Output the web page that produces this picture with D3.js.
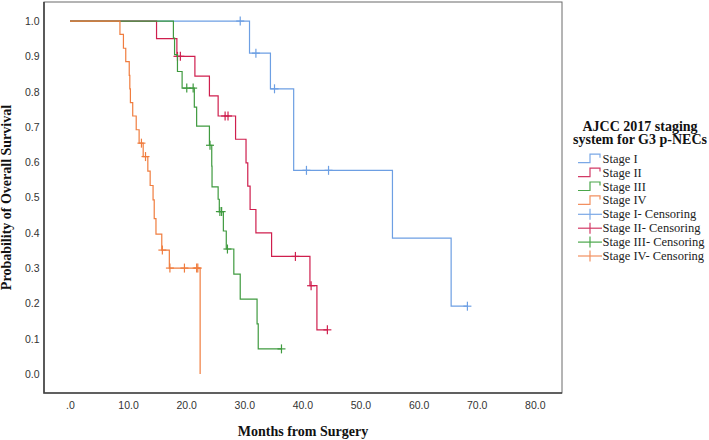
<!DOCTYPE html>
<html>
<head>
<meta charset="utf-8">
<script src="https://cdn.jsdelivr.net/npm/d3@7"></script>
<style>
  html, body { margin: 0; padding: 0; background: #fff; }
  svg { display: block; }
</style>
</head>
<body>
<svg id="chart" width="709" height="440"></svg>
<script>
// ---------------- data ----------------
const stageNames = ["Stage I", "Stage II", "Stage III", "Stage IV"];
const censorNames = ["Stage I- Censoring", "Stage II- Censoring", "Stage III- Censoring", "Stage IV- Censoring"];
const legendTitle = ["AJCC 2017 staging", "system for G3 p-NECs"];

// Kaplan-Meier step events: time (months) and survival after event
const stageI_times = [0, 30.9, 34.5, 38.5, 55.5, 65.6];
const stageI_surv  = [1.0, 0.909, 0.808, 0.577, 0.385, 0.192];
const stageI_censor = [29.3, 32.0, 35.2, 40.7, 44.5, 68.4];
const stageI_end = 68.4;

const stageII_times = [0, 14.9, 18.4, 21.5, 24.0, 25.5, 28.5, 30.3, 30.6, 31.0, 32.0, 34.7, 41.3, 42.5];
const stageII_surv  = [1.0, 0.95, 0.90, 0.844, 0.788, 0.731, 0.665, 0.598, 0.532, 0.466, 0.40, 0.333, 0.25, 0.125];
const stageII_censor = [18.5, 19.0, 26.7, 27.2, 38.8, 41.5, 44.3];
const stageII_end = 44.3;

const stageIII_times = [0, 17.8, 18.0, 18.5, 19.3, 21.4, 21.8, 24.0, 24.4, 24.45, 25.5, 25.7, 26.4, 26.9, 28.2, 29.3, 32.2, 32.4];
const stageIII_surv  = [1.0, 0.952, 0.905, 0.857, 0.81, 0.756, 0.702, 0.648, 0.589, 0.530, 0.495, 0.460, 0.405, 0.354, 0.283, 0.212, 0.142, 0.071];
const stageIII_censor = [20.1, 21.2, 24.1, 25.8, 26.1, 27.1, 36.4];
const stageIII_end = 36.4;

const stageIV_times = [0, 8.6, 9.2, 9.6, 10.2, 10.3, 10.4, 10.8, 11.4, 11.9, 12.6, 13.4, 13.8, 14.3, 14.5, 14.8, 15.8, 17.1, 22.4];
const stageIV_surv  = [1.0, 0.962, 0.923, 0.885, 0.846, 0.808, 0.769, 0.731, 0.692, 0.654, 0.616, 0.575, 0.534, 0.493, 0.44, 0.396, 0.351, 0.30, 0];
const stageIV_censor = [12.3, 13.0, 15.9, 17.2, 19.7, 21.8, 22.0];
const stageIV_end = 22.4;

const xTicks = [0, 10, 20, 30, 40, 50, 60, 70, 80];
const xTickLabels = [".0", "10.0", "20.0", "30.0", "40.0", "50.0", "60.0", "70.0", "80.0"];
const yTicks = [0, 0.1, 0.2, 0.3, 0.4, 0.5, 0.6, 0.7, 0.8, 0.9, 1.0];
const yTickLabels = ["0.0", "0.1", "0.2", "0.3", "0.4", "0.5", "0.6", "0.7", "0.8", "0.9", "1.0"];

const colors = ["#6d9fe3", "#cf1f4e", "#3f9a3f", "#f07d3f"];
const legendColors = ["#7aa8e6", "#d23a66", "#4aa64a", "#f29060"];

// ---------------- build ----------------
const series = [
  {times: stageI_times, surv: stageI_surv, censor: stageI_censor, end: stageI_end},
  {times: stageII_times, surv: stageII_surv, censor: stageII_censor, end: stageII_end},
  {times: stageIII_times, surv: stageIII_surv, censor: stageIII_censor, end: stageIII_end},
  {times: stageIV_times, surv: stageIV_surv, censor: stageIV_censor, end: stageIV_end}
];

const svg = d3.select("#chart");
const L = 44, R = 562, T = 2, B = 393;

const x = d3.scaleLinear().domain([-4.47, 84.68]).range([L, R]);
const y = d3.scaleLinear().domain([-0.054, 1.054]).range([B, T]);

// frame
svg.append("rect").attr("x", L).attr("y", T).attr("width", R - L).attr("height", B - T)
  .attr("fill", "none").attr("stroke", "#6a6a6a").attr("stroke-width", 1);
svg.append("path").attr("d", `M${L},${T} V${B} H${R}`)
  .attr("fill", "none").attr("stroke", "#444").attr("stroke-width", 1.6);

// axes
const xAxis = d3.axisBottom(x).tickValues(xTicks).tickSize(0).tickPadding(8.5)
  .tickFormat((d, i) => xTickLabels[i]);
const gx = svg.append("g").attr("transform", `translate(0,${B})`).call(xAxis);
gx.select(".domain").remove();
gx.selectAll("text").attr("font-family", "'Liberation Sans', Arial, sans-serif")
  .attr("font-size", "10.5px").attr("fill", "#333");

const yAxis = d3.axisLeft(y).tickValues(yTicks).tickSize(0).tickPadding(4.5)
  .tickFormat((d, i) => yTickLabels[i]);
const gy = svg.append("g").attr("transform", `translate(${L},0)`).call(yAxis);
gy.select(".domain").remove();
gy.selectAll("text").attr("font-family", "'Liberation Sans', Arial, sans-serif")
  .attr("font-size", "10.5px").attr("fill", "#333");

// axis titles
svg.append("text").attr("x", (L + R) / 2).attr("y", 436).attr("text-anchor", "middle")
  .attr("font-family", "'Liberation Serif', 'Times New Roman', serif").attr("font-weight", "bold")
  .attr("font-size", "14px").attr("fill", "#111").text("Months from Surgery");
svg.append("text").attr("transform", `translate(11,${(T + B) / 2}) rotate(-90)`).attr("text-anchor", "middle")
  .attr("font-family", "'Liberation Serif', 'Times New Roman', serif").attr("font-weight", "bold")
  .attr("font-size", "14px").attr("fill", "#111").text("Probability of Overall Survival");

// curves
const line = d3.line().x(d => x(d[0])).y(d => y(d[1])).curve(d3.curveStepAfter);
function survAt(s, t) {
  let v = s.surv[0];
  for (let i = 0; i < s.times.length; i++) if (s.times[i] <= t) v = s.surv[i];
  return v;
}
series.forEach((s, k) => {
  const pts = s.times.map((t, i) => [t, s.surv[i]]);
  const last = pts[pts.length - 1];
  if (s.end > last[0]) pts.push([s.end, last[1]]);
  svg.append("path").attr("d", line(pts)).attr("fill", "none")
    .attr("stroke", colors[k]).attr("stroke-width", 1.2);
  const g = svg.append("g").attr("stroke", colors[k]).attr("stroke-width", 1.2);
  s.censor.forEach(t => {
    const cx = x(t), cy = y(survAt(s, t));
    g.append("line").attr("x1", cx).attr("x2", cx).attr("y1", cy - 4.5).attr("y2", cy + 4.5);
    g.append("line").attr("x1", cx - 4).attr("x2", cx + 4).attr("y1", cy).attr("y2", cy);
  });
});

// legend
const lg = svg.append("g");
legendTitle.forEach((t, i) => {
  lg.append("text").attr("x", 640).attr("y", 130.5 + i * 13.8).attr("text-anchor", "middle")
    .attr("font-family", "'Liberation Serif', 'Times New Roman', serif").attr("font-weight", "bold")
    .attr("font-size", "14px").attr("fill", "#111").text(t);
});
const step = 13.9, y0 = 158.7;
stageNames.forEach((n, i) => {
  const cy = y0 + i * step;
  lg.append("path").attr("d", `M578,${cy + 4} H590 V${cy - 4.5} H600 V${cy - 1}`)
    .attr("fill", "none").attr("stroke", legendColors[i]).attr("stroke-width", 1.2);
  lg.append("text").attr("x", 602.5).attr("y", cy + 4).attr("font-family", "'Liberation Serif', 'Times New Roman', serif")
    .attr("font-size", "12.5px").attr("fill", "#222").text(n);
});
censorNames.forEach((n, i) => {
  const cy = y0 + (i + 4) * step;
  lg.append("line").attr("x1", 578).attr("x2", 602).attr("y1", cy).attr("y2", cy)
    .attr("stroke", legendColors[i]).attr("stroke-width", 1.2);
  lg.append("line").attr("x1", 590).attr("x2", 590).attr("y1", cy - 5.5).attr("y2", cy + 5.5)
    .attr("stroke", legendColors[i]).attr("stroke-width", 1.2);
  lg.append("text").attr("x", 602.5).attr("y", cy + 4).attr("font-family", "'Liberation Serif', 'Times New Roman', serif")
    .attr("font-size", "12.5px").attr("fill", "#222").text(n);
});
</script>
</body>
</html>
